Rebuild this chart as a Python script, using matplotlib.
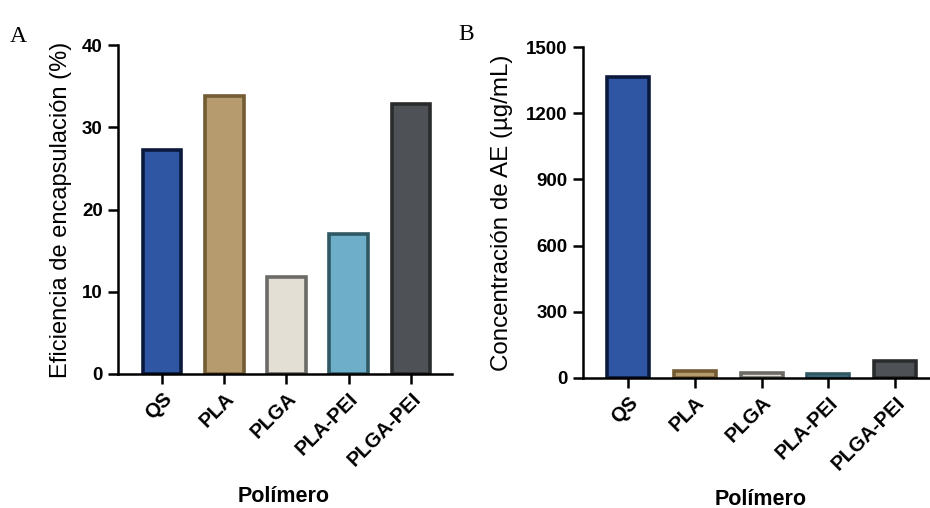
import matplotlib
matplotlib.use("Agg")
import matplotlib.pyplot as plt

categories = ["QS", "PLA", "PLGA", "PLA-PEI", "PLGA-PEI"]
eficiencia = [27.2, 33.8, 11.8, 17.0, 32.8]
concentracion = [1364, 32, 23, 17, 77]
yticks_a = [0, 10, 20, 30, 40]
yticks_b = [0, 300, 600, 900, 1200, 1500]

fills = ["#2E56A3", "#B59B6E", "#E3DFD5", "#6FAEC8", "#4E5155"]
edges = ["#0B1A3C", "#735B33", "#6B6A66", "#2F5863", "#2A2B2D"]

plt.rcParams['font.family'] = ['Liberation Sans', 'DejaVu Sans']

fig = plt.figure(figsize=(9.3, 5.08), dpi=100)
axA = fig.add_axes([118/930, 1-374/508, (452-118)/930, (374-45)/508])
axB = fig.add_axes([583/930, 1-378/508, (930-583)/930, (378-47)/508])

def style(ax, yticks, ylim, xlim, width, vals, ylabel, ylsize, ylx, xlpos):
    x = list(range(len(categories)))
    ax.bar(x, vals, width=width, color=fills, edgecolor=edges, linewidth=2.6, zorder=2)
    ax.set_xlim(*xlim)
    ax.set_ylim(*ylim)
    ax.set_yticks(yticks)
    ax.set_xticks(x)
    ax.set_xticklabels(categories, rotation=45, ha='right', rotation_mode='anchor',
                       fontsize=14.5, fontweight='bold')
    for lbl in ax.get_yticklabels():
        lbl.set_fontsize(13.5)
        lbl.set_fontweight('bold')
    for s in ['top', 'right']:
        ax.spines[s].set_visible(False)
    for s in ['left', 'bottom']:
        ax.spines[s].set_linewidth(1.8)
    ax.tick_params(axis='both', length=7, width=1.8, pad=4)
    ax.set_ylabel(ylabel, fontsize=ylsize)
    ax.yaxis.set_label_coords(ylx, 0.5)
    ax.set_xlabel("Polímero", fontsize=15.5, fontweight='bold')
    ax.xaxis.set_label_coords(*xlpos)
    ax.xaxis.label.set_va('center')
    ax.yaxis.label.set_va('center')

style(axA, yticks_a, (0, 40), (-0.707, 4.66), 0.62, eficiencia,
      "Eficiencia de encapsulación (%)", 17, -0.171, (0.497, -0.372))
style(axB, yticks_b, (0, 1500), (-0.674, 4.52), 0.63, concentracion,
      "Concentración de AE (µg/mL)", 17.4, -0.233, (0.513, -0.366))

fig.text(10/930, 1-42/508, "A", family=['Liberation Serif'], fontsize=17)
fig.text(458/930, 1-40/508, "B", family=['Liberation Serif'], fontsize=17)

fig.savefig("out.png", dpi=100, facecolor="white")
